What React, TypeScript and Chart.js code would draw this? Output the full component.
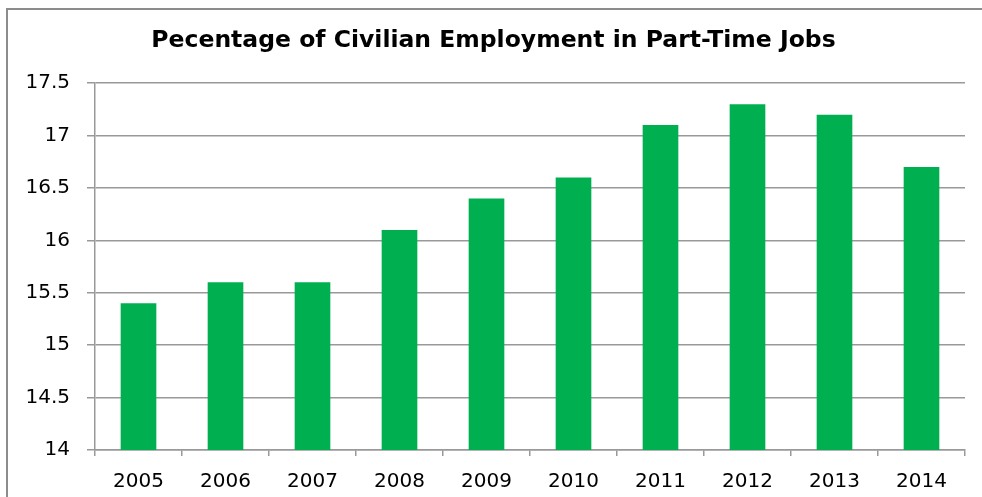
import React, { useEffect, useRef } from "react";
import { Chart, registerables } from "chart.js";

Chart.register(...registerables);

const title = "Pecentage of Civilian Employment in Part-Time Jobs";
const years = ["2005", "2006", "2007", "2008", "2009", "2010", "2011", "2012", "2013", "2014"];
const partTimePct = [15.4, 15.6, 15.6, 16.1, 16.4, 16.6, 17.1, 17.3, 17.2, 16.7];
const yMin = 14;
const yMax = 17.5;
const yStep = 0.5;

const framePlugin = {
  id: "frame",
  beforeDraw(chart: any) {
    const c = chart.ctx;
    c.save();
    c.strokeStyle = "#8c8c8c";
    c.lineWidth = 2;
    c.beginPath();
    c.moveTo(7, chart.height + 5);
    c.lineTo(7, 9);
    c.lineTo(chart.width + 5, 9);
    c.stroke();
    c.restore();
  },
};

export default function App() {
  const ref = useRef<HTMLCanvasElement>(null);
  useEffect(() => {
    document.body.style.margin = "0";
    const ctx = ref.current!;
    const chart = new Chart(ctx, {
      type: "bar",
      data: {
        labels: years,
        datasets: [
          {
            data: partTimePct,
            backgroundColor: "#00B050",
            barPercentage: 0.41,
            categoryPercentage: 1,
          },
        ],
      },
      plugins: [framePlugin],
      options: {
        responsive: false,
        animation: false,
        devicePixelRatio: 1,
        layout: { padding: { left: 22, right: 17, top: 0, bottom: 0 } },
        plugins: {
          legend: { display: false },
          tooltip: { enabled: false },
          title: {
            display: true,
            text: title,
            color: "#000",
            font: { family: "DejaVu Sans", weight: "bold", size: 23.5 },
            padding: { top: 27, bottom: 28 },
          },
        },
        scales: {
          x: {
            offset: true,
            grid: {
              offset: true,
              drawOnChartArea: false,
              drawTicks: true,
              tickLength: 6,
              color: "#999",
              lineWidth: 1.5,
            },
            border: { display: true, color: "#999", width: 1.5 },
            ticks: {
              color: "#000",
              font: { family: "DejaVu Sans", size: 20 },
              padding: 14,
              maxRotation: 0,
            },
            afterFit: (s: any) => {
              s.height = 47;
            },
          },
          y: {
            min: yMin,
            max: yMax,
            ticks: {
              stepSize: yStep,
              color: "#000",
              font: { family: "DejaVu Sans", size: 20 },
              padding: 17,
              callback: (v: any) => String(Number(v)),
            },
            grid: {
              color: "#999",
              lineWidth: 1.5,
              tickLength: 8,
            },
            border: { display: true, color: "#999", width: 1.5 },
            afterFit: (s: any) => {
              s.width = 73;
            },
          },
        },
      },
    });
    return () => chart.destroy();
  }, []);
  return (
    <div style={{ position: "relative", width: 982, height: 497, background: "#fff" }}>
      <canvas ref={ref} width={982} height={497} style={{ display: "block" }} />
    </div>
  );
}
